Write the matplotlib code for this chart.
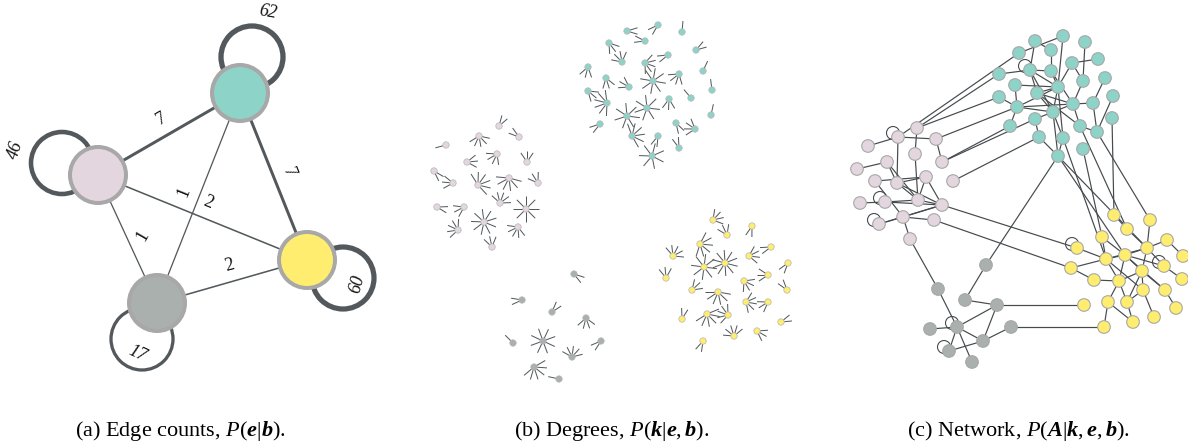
import numpy as np
import matplotlib
matplotlib.use("Agg")
import matplotlib.pyplot as plt
from matplotlib.patches import Circle
from matplotlib.collections import LineCollection

plt.rcParams["font.family"] = ["Liberation Serif", "DejaVu Serif"]
plt.rcParams["mathtext.fontset"] = "custom"
plt.rcParams["mathtext.rm"] = "Liberation Serif"
plt.rcParams["mathtext.it"] = "Liberation Serif:italic"
plt.rcParams["mathtext.bf"] = "Liberation Serif:italic:bold"

COLORS = {"teal": "#8dd3c7", "pink": "#e3d6de", "yellow": "#ffed6f", "grey": "#a9b0ad"}
EDGE = "#52585b"
PX = 0.72  # points per pixel at dpi 100

# ---- panel (a): block graph ----
blocks = ["teal", "pink", "yellow", "grey"]
block_x = [240, 98, 307, 157]
block_y = [93, 175, 260, 303]
block_self = [62, 46, 60, 17]
loop_x = [252, 62, 343, 142]
loop_y = [57, 163, 278, 339]
loop_label_x = [268, 15, 357, 137]
loop_label_y = [12, 150, 284, 354]
loop_label_rot = [-10, 72, 75, -25]
block_edges = [(0, 1), (0, 2), (1, 2), (0, 3), (1, 3), (3, 2)]
block_edge_counts = [7, 7, 2, 1, 1, 2]
edge_label_x = [161, 289, 208, 184, 143, 229]
edge_label_y = [119, 172, 203, 192, 236, 265]
edge_label_rot = [30, -68, -22, 68, 60, 15]

# ---- panel (b): degrees (node positions in px, degrees) ----
b_teal_x = [627, 658, 682, 609, 645, 696, 588, 622, 645, 668, 703, 606, 629, 653, 679,
            712, 588, 607, 647, 669, 691, 627, 600, 711, 676, 695, 632, 658, 679, 652]
b_teal_y = [31, 25, 32, 43, 41, 50, 67, 62, 63, 55, 71, 78, 87, 81, 74,
            90, 91, 103, 108, 99, 98, 116, 124, 115, 123, 129, 136, 136, 148, 156]
b_teal_k = [2, 2, 1, 3, 2, 2, 3, 4, 5, 2, 1, 3, 3, 8, 4,
            1, 3, 6, 7, 3, 1, 7, 2, 1, 2, 4, 6, 2, 2, 7]
b_pink_x = [446, 499, 479, 519, 467, 497, 527, 434, 453, 478, 509, 538, 437, 464, 500,
            526, 458, 484, 518, 492]
b_pink_y = [145, 126, 136, 137, 162, 154, 162, 171, 183, 185, 178, 183, 207, 207, 203,
            209, 230, 222, 227, 247]
b_pink_k = [1, 2, 5, 2, 3, 4, 3, 2, 3, 6, 6, 3, 2, 3, 5, 8, 5, 9, 5, 3]
b_grey_x = [574, 522, 552, 586, 513, 543, 601, 572, 534, 559]
b_grey_y = [274, 300, 312, 318, 343, 341, 341, 357, 367, 379]
b_grey_k = [2, 2, 2, 4, 1, 8, 2, 5, 6, 1]
b_yellow_x = [713, 752, 727, 700, 771, 673, 704, 725, 749, 788, 666, 744, 768, 692, 718,
              787, 746, 768, 682, 707, 728, 781, 703, 734, 757]
b_yellow_y = [220, 226, 235, 244, 247, 256, 267, 263, 256, 263, 278, 281, 275, 290, 292,
              290, 302, 302, 319, 314, 315, 322, 341, 336, 331]
b_yellow_k = [4, 2, 3, 6, 2, 5, 8, 10, 4, 2, 3, 4, 3, 3, 6,
              2, 5, 3, 2, 6, 5, 2, 2, 5, 3]

# ---- panel (c): network ----
c_teal_x = [1035, 1063, 1085, 1019, 1051, 1098, 999, 1030, 1051, 1072, 1105, 1015, 1037, 1058, 1083,
            1113, 999, 1017, 1053, 1073, 1093, 1010, 1035, 1080, 1112, 1097, 1039, 1063, 1083, 1058]
c_teal_y = [41, 36, 42, 53, 50, 59, 74, 70, 71, 63, 78, 85, 93, 87, 81,
            96, 97, 107, 112, 104, 103, 126, 119, 126, 118, 132, 137, 138, 149, 156]
c_pink_x = [868, 917, 898, 936, 887, 915, 942, 857, 875, 897, 926, 953, 860, 885, 918,
            942, 879, 903, 934, 910]
c_pink_y = [146, 128, 137, 139, 162, 154, 162, 169, 181, 183, 177, 181, 203, 202, 200,
            205, 224, 217, 220, 239]
c_grey_x = [986, 938, 965, 997, 930, 957, 1011, 983, 949, 972]
c_grey_y = [265, 289, 300, 305, 329, 327, 327, 341, 351, 362]
c_yellow_x = [1114, 1150, 1127, 1102, 1167, 1077, 1106, 1125, 1147, 1183, 1071, 1142, 1164, 1094, 1119,
              1182, 1143, 1165, 1084, 1108, 1127, 1176, 1104, 1133, 1154]
c_yellow_y = [215, 220, 229, 237, 240, 248, 259, 255, 248, 256, 268, 271, 266, 280, 281,
              279, 290, 290, 305, 302, 302, 308, 327, 322, 317]

teal_teal = [(3, 1), (0, 7), (0, 4), (1, 13), (2, 14), (5, 9), (6, 7), (7, 8), (7, 12), (7, 18),
             (8, 13), (4, 8), (9, 13), (9, 14), (10, 20), (11, 13), (11, 17), (16, 17), (17, 18),
             (17, 13), (12, 18), (12, 13), (13, 18), (18, 19), (18, 22), (18, 29), (19, 20),
             (19, 23), (20, 25), (22, 26), (23, 25), (21, 17), (26, 29), (27, 29), (15, 25),
             (14, 19), (8, 19), (13, 27), (12, 23), (17, 19), (7, 13), (12, 19), (18, 27)]
pink_pink = [(0, 2), (2, 9), (2, 3), (1, 5), (3, 6), (4, 7), (4, 9), (5, 14), (8, 10), (9, 10),
             (9, 14), (12, 13), (13, 15), (13, 14), (14, 15), (9, 15), (10, 15), (16, 17),
             (17, 18), (16, 15), (17, 15), (17, 19), (4, 14), (10, 14), (8, 17)]
grey_grey = [(0, 2), (2, 3), (1, 5), (5, 3), (3, 7), (6, 7), (5, 7), (5, 8), (5, 9), (8, 7), (4, 5)]
yellow_yellow = [(0, 2), (4, 9), (3, 6), (3, 7), (6, 7), (6, 8), (7, 8), (7, 11), (7, 14), (7, 12),
                 (8, 11), (8, 4), (10, 6), (11, 14), (11, 16), (11, 17), (12, 15), (14, 19),
                 (14, 20), (16, 20), (16, 24), (17, 21), (19, 22), (19, 23), (20, 23), (13, 14),
                 (2, 8), (6, 14), (11, 20), (7, 17), (8, 12), (6, 16), (5, 6), (10, 13), (1, 8)]
teal_pink = [(6, 1), (16, 1), (3, 2), (17, 3), (21, 6), (26, 11), (22, 6)]
teal_yellow = [(24, 0), (25, 1), (29, 7), (28, 3), (27, 6), (23, 2), (29, 8)]
teal_grey = [(29, 0)]
pink_yellow = [(15, 5), (18, 10)]
pink_grey = [(19, 1)]
grey_yellow = [(3, 18), (6, 22)]
self_loops = {"teal": [7], "pink": [2, 16, 13], "grey": [5, 8], "yellow": [5, 12]}

fig = plt.figure(figsize=(11.88, 4.48), dpi=100)
ax = fig.add_axes([0, 0, 1, 1])
ax.set_xlim(0, 1188)
ax.set_ylim(448, 0)
ax.axis("off")

# panel (a)
for (i, j), n in zip(block_edges, block_edge_counts):
    lw = 1.0 + 0.28 * n
    ax.plot([block_x[i], block_x[j]], [block_y[i], block_y[j]], color=EDGE, lw=lw * PX, zorder=1)
for k in range(len(blocks)):
    lw = 2.5 + 0.045 * block_self[k]
    ax.add_patch(Circle((loop_x[k], loop_y[k]), 31, fill=False, ec=EDGE, lw=lw * PX, zorder=1))
    ax.add_patch(Circle((block_x[k], block_y[k]), 28, fc=COLORS[blocks[k]], ec="#a8a8a8",
                        lw=4 * PX, zorder=3))
    ax.text(loop_label_x[k], loop_label_y[k], str(block_self[k]), fontsize=13, style="italic",
            rotation=loop_label_rot[k], ha="center", va="center", color="#111111", zorder=4)
for n, lx, ly, rot in zip(block_edge_counts, edge_label_x, edge_label_y, edge_label_rot):
    ax.text(lx, ly, str(n), fontsize=13, rotation=rot, ha="center", va="center",
            color="#111111", zorder=4)

# panel (b)
groups_b = [("teal", b_teal_x, b_teal_y, b_teal_k), ("pink", b_pink_x, b_pink_y, b_pink_k),
            ("grey", b_grey_x, b_grey_y, b_grey_k), ("yellow", b_yellow_x, b_yellow_y, b_yellow_k)]
count = 0
for name, xs, ys, ks in groups_b:
    segs = []
    for x, y, k in zip(xs, ys, ks):
        base = np.deg2rad(count * 137.5)
        step = 2 * np.pi / k if k >= 7 else np.deg2rad(34)
        for j in range(k):
            a = base + (j - (k - 1) / 2) * step
            length = 11 + (k >= 6) * 2
            segs.append([(x, y), (x + length * np.cos(a), y + length * np.sin(a))])
        count += 1
    ax.add_collection(LineCollection(segs, colors=EDGE, linewidths=1.0 * PX, zorder=1))
    for x, y in zip(xs, ys):
        ax.add_patch(Circle((x, y), 3.2, fc=COLORS[name], ec="#b5b5b5", lw=0.5, zorder=2))

# panel (c)
pos = {"teal": (c_teal_x, c_teal_y), "pink": (c_pink_x, c_pink_y),
       "grey": (c_grey_x, c_grey_y), "yellow": (c_yellow_x, c_yellow_y)}
edge_sets = [("teal", "teal", teal_teal), ("pink", "pink", pink_pink), ("grey", "grey", grey_grey),
             ("yellow", "yellow", yellow_yellow), ("teal", "pink", teal_pink),
             ("teal", "yellow", teal_yellow), ("teal", "grey", teal_grey),
             ("pink", "yellow", pink_yellow), ("pink", "grey", pink_grey),
             ("grey", "yellow", grey_yellow)]
segs = []
for ga, gb, edges in edge_sets:
    for i, j in edges:
        segs.append([(pos[ga][0][i], pos[ga][1][i]), (pos[gb][0][j], pos[gb][1][j])])
ax.add_collection(LineCollection(segs, colors="#464b4e", linewidths=1.2 * PX, zorder=1))
for name, idx in self_loops.items():
    for i in idx:
        ax.add_patch(Circle((pos[name][0][i] - 5, pos[name][1][i] - 4), 6.5, fill=False,
                            ec="#464b4e", lw=1.1 * PX, zorder=1))
for name, (xs, ys) in pos.items():
    for x, y in zip(xs, ys):
        ax.add_patch(Circle((x, y), 6.3, fc=COLORS[name], ec="#a8a8a8", lw=0.8, zorder=2))

# captions
captions = [r"(a) Edge counts, $P(\mathbf{e}|\mathbf{b})$.",
            r"(b) Degrees, $P(\mathbf{k}|\mathbf{e},\mathbf{b})$.",
            r"(c) Network, $P(\mathbf{A}|\mathbf{k},\mathbf{e},\mathbf{b})$."]
caption_x = [180, 612, 1018]
for cx, cap in zip(caption_x, captions):
    ax.text(cx, 431, cap, fontsize=16, ha="center", va="center", color="black")

fig.savefig("out.png", dpi=100)
